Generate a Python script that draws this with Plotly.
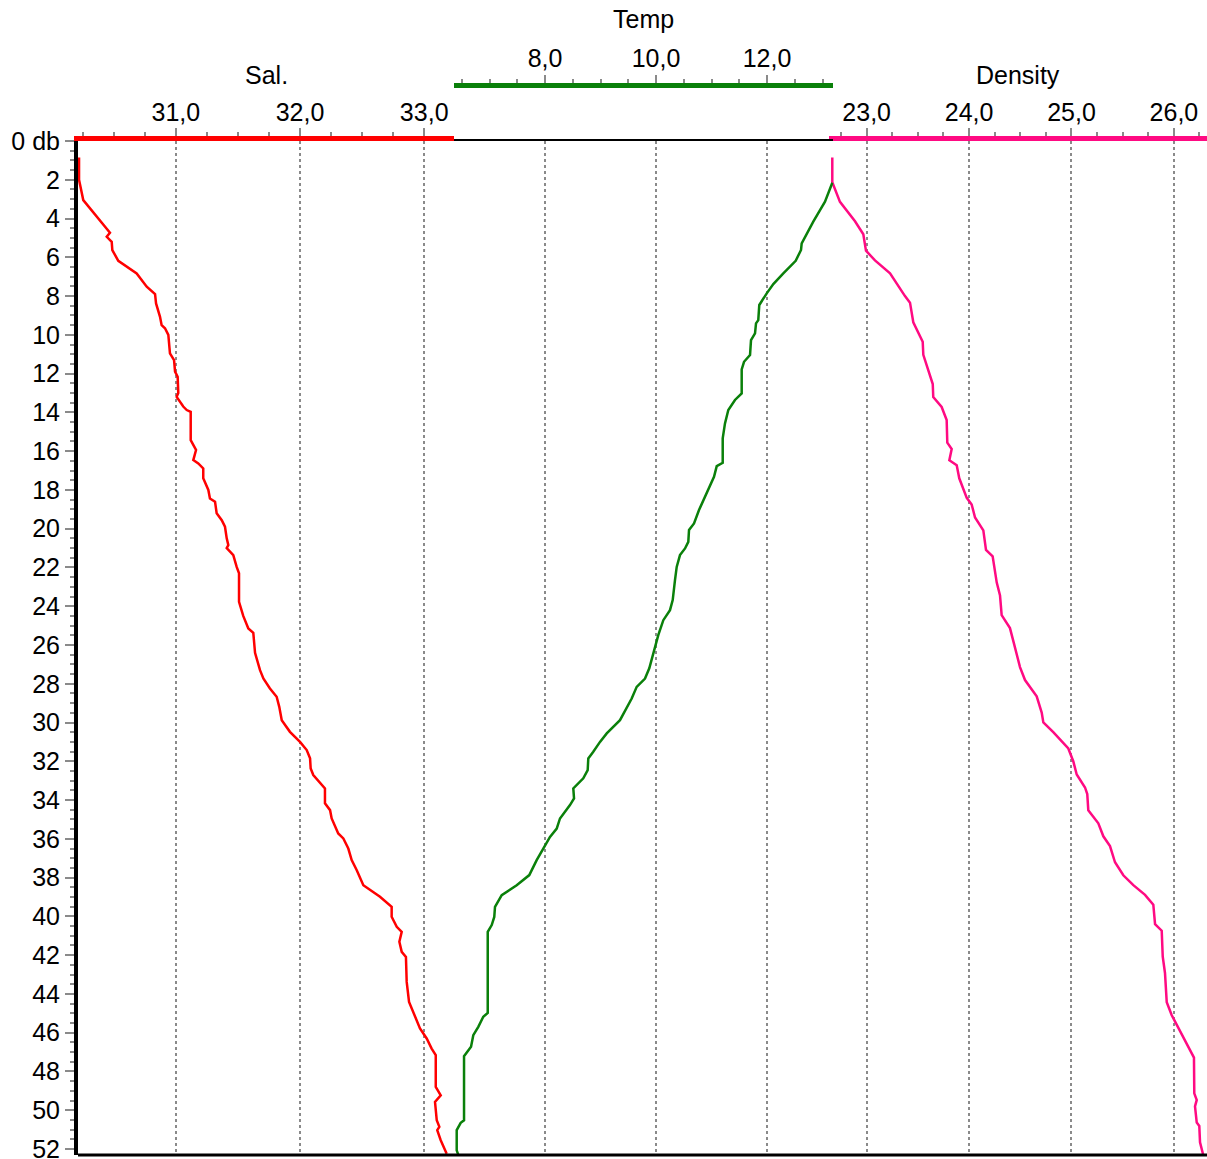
import plotly.graph_objects as go

# ---------------- data ----------------
depth_ticks = list(range(0, 53, 2))
depth_labels = ["0 db"] + [str(v) for v in depth_ticks[1:]]

sal_depth = [0.85, 2.0, 3.05, 4.73, 4.94, 5.2, 5.63, 6.18, 6.83, 7.52, 7.9, 8.38, 9.07, 9.5, 9.66,
             10.0, 10.6, 10.96, 11.3, 11.9, 12.16, 13.0, 13.2, 13.7, 13.88, 13.97, 15.43, 15.94,
             16.46, 16.63, 16.89, 17.4, 18.0, 18.44, 18.61, 19.2, 19.56, 19.9, 20.5, 20.85, 21.0,
             21.36, 21.97, 22.3, 23.77, 24.5, 25.15, 25.37, 26.4, 27.3, 27.73, 28.24, 28.67, 29.19,
             29.88, 30.48, 31.0, 31.42, 31.85, 32.37, 32.71, 33.14, 33.4, 34.17, 34.52, 34.95,
             35.38, 35.72, 35.98, 36.5, 37.1, 37.62, 38.39, 38.99, 39.51, 40.02, 40.54, 40.8,
             41.31, 41.83, 42.09, 43.38, 44.41, 45.18, 45.78, 46.3, 46.82, 47.16, 48.8, 49.23,
             49.57, 50.52, 50.86, 51.03, 51.55, 52.24]
sal = [30.221, 30.221, 30.255, 30.470, 30.444, 30.484, 30.489, 30.537, 30.685, 30.766, 30.833,
       30.841, 30.873, 30.886, 30.913, 30.940, 30.948, 30.953, 30.986, 30.994, 31.015, 31.020,
       31.007, 31.060, 31.088, 31.120, 31.120, 31.163, 31.141, 31.181, 31.221, 31.221, 31.262,
       31.275, 31.316, 31.329, 31.370, 31.396, 31.410, 31.423, 31.410, 31.463, 31.490, 31.509,
       31.509, 31.543, 31.584, 31.624, 31.638, 31.678, 31.705, 31.758, 31.812, 31.833, 31.853,
       31.919, 32.000, 32.054, 32.081, 32.086, 32.107, 32.161, 32.201, 32.201, 32.242, 32.255,
       32.282, 32.308, 32.349, 32.389, 32.416, 32.457, 32.510, 32.644, 32.738, 32.738, 32.779,
       32.819, 32.800, 32.819, 32.853, 32.859, 32.878, 32.926, 32.966, 33.020, 33.060, 33.093,
       33.093, 33.133, 33.087, 33.101, 33.122, 33.105, 33.133, 33.181]

temp_depth = [2.15, 3.13, 4.16, 4.94, 5.28, 5.62, 6.18, 6.83, 7.38, 7.86, 8.2, 8.46, 9.24,
              9.41, 9.92, 10.27, 11.04, 11.39, 11.78, 13.02, 13.36, 13.88, 14.57, 15.34, 16.6,
              16.77, 17.32, 18.0, 18.52, 19.04, 19.73, 20.07, 20.68, 21.02, 21.36, 21.97, 22.65,
              23.68, 24.2, 24.72, 25.49, 26.43, 27.2, 27.73, 28.16, 28.76, 29.36, 29.88, 30.56,
              31.0, 31.51, 31.85, 32.46, 32.88, 33.4, 33.92, 34.26, 34.61, 34.95, 35.47, 35.9,
              36.5, 37.1, 37.87, 38.39, 38.91, 39.51, 40.03, 40.45, 40.8, 44.98, 45.18, 45.7,
              46.13, 46.73, 47.21, 50.52, 50.65, 51.03, 52.07, 52.3]
temp = [13.177, 13.045, 12.834, 12.685, 12.625, 12.613, 12.517, 12.294, 12.114, 11.995,
        11.923, 11.861, 11.843, 11.802, 11.784, 11.712, 11.694, 11.586, 11.544, 11.544, 11.423,
        11.303, 11.243, 11.202, 11.202, 11.094, 11.045, 10.942, 10.852, 10.775, 10.685, 10.595,
        10.582, 10.523, 10.432, 10.373, 10.342, 10.301, 10.252, 10.132, 10.041, 9.951, 9.879,
        9.802, 9.652, 9.562, 9.441, 9.351, 9.112, 8.991, 8.870, 8.780, 8.769, 8.690, 8.510,
        8.523, 8.450, 8.360, 8.270, 8.211, 8.090, 7.969, 7.850, 7.717, 7.490, 7.220, 7.099,
        7.086, 7.040, 6.968, 6.968, 6.888, 6.798, 6.708, 6.667, 6.541, 6.541, 6.481, 6.409,
        6.409, 6.438]

dens_depth = [0.85, 2.13, 3.14, 4.14, 4.81, 5.66, 6.16, 6.83, 8.0, 8.34, 9.35, 9.85, 10.36, 11.03,
              11.87, 12.54, 13.21, 13.72, 14.39, 15.56, 15.89, 16.47, 16.73, 17.4, 18.41, 18.75,
              19.42, 20.09, 21.1, 21.43, 22.78, 23.45, 24.46, 25.13, 25.8, 27.14, 27.81, 28.65,
              29.49, 29.99, 30.5, 31.34, 32.01, 32.68, 33.35, 33.69, 34.53, 35.2, 35.87, 36.37,
              37.21, 37.88, 38.39, 38.89, 39.4, 40.4, 40.74, 42.08, 42.92, 44.43, 45.1, 45.94,
              46.61, 47.29, 49.13, 49.47, 49.8, 50.64, 50.81, 51.65, 52.32]
dens = [22.664, 22.664, 22.739, 22.886, 22.967, 22.993, 23.081, 23.228, 23.374, 23.423, 23.455,
        23.504, 23.547, 23.553, 23.602, 23.645, 23.650, 23.732, 23.781, 23.787, 23.830, 23.807,
        23.879, 23.904, 23.977, 24.025, 24.058, 24.139, 24.165, 24.230, 24.270, 24.302, 24.318,
        24.399, 24.432, 24.497, 24.546, 24.660, 24.709, 24.725, 24.822, 24.969, 25.018, 25.051,
        25.132, 25.154, 25.164, 25.262, 25.311, 25.376, 25.425, 25.506, 25.604, 25.718, 25.799,
        25.816, 25.881, 25.891, 25.913, 25.930, 25.979, 26.060, 26.125, 26.196, 26.199, 26.223,
        26.206, 26.223, 26.248, 26.255, 26.287]

# ---------------- styling ----------------
FONT = dict(family="Liberation Sans, Arial, sans-serif", size=25, color="black")
GRAY = "#8a8a8a"
RED = "#ff0000"
GREEN = "#0a800a"
PINK = "#ff0a82"

fig = go.Figure()
fig.add_trace(go.Scatter(x=sal, y=sal_depth, xaxis="x", yaxis="y", mode="lines",
                         line=dict(color=RED, width=2.5), hoverinfo="skip"))
fig.add_trace(go.Scatter(x=temp, y=temp_depth, xaxis="x4", yaxis="y", mode="lines",
                         line=dict(color=GREEN, width=2.5), hoverinfo="skip"))
fig.add_trace(go.Scatter(x=dens, y=dens_depth, xaxis="x3", yaxis="y", mode="lines",
                         line=dict(color=PINK, width=2.5), hoverinfo="skip"))
fig.add_trace(go.Scatter(x=[], y=[], xaxis="x2", yaxis="y2", mode="lines", hoverinfo="skip"))

Y_TOP = 0.94326
Y2_TOP = 0.99302
D_SAL = [0, 1 / 3]
D_TEMP = [1 / 3, 0.669]
D_DENS = [0.6655, 1]

def xax(domain, rng, anchor, tick0, dtick, mtick0, mdtick, color, grid=True, labels=True,
        lw=5, ticks="outside", standoff=-3):
    return dict(
        domain=domain, range=rng, anchor=anchor, side="top", automargin=False,
        tickmode="linear", tick0=tick0, dtick=dtick, tickformat=".1f",
        ticks=ticks, ticklen=8, tickwidth=2, tickcolor=GRAY,
        showticklabels=labels, tickfont=FONT, ticklabelstandoff=standoff,
        showline=True, linecolor=color, linewidth=lw,
        showgrid=grid, gridcolor=GRAY, gridwidth=2, griddash="dot",
        zeroline=False, fixedrange=True,
        minor=dict(tick0=mtick0, dtick=mdtick, ticks=ticks if ticks else "", ticklen=4,
                   tickwidth=2, tickcolor=GRAY, showgrid=False),
    )

fig.update_layout(
    width=1207, height=1159,
    margin=dict(l=78, r=0, t=80, b=4, autoexpand=False),
    paper_bgcolor="white", plot_bgcolor="rgba(0,0,0,0)",
    showlegend=False,
    separators=", ",
    font=FONT,
    xaxis=xax(D_SAL, [30.2126, 33.2426], "y", 31, 1, 30, 0.25, RED),
    xaxis2=xax(D_TEMP, [6.3663, 13.1946], "y2", 8, 2, 6, 0.5, GREEN, grid=False, standoff=-2),
    xaxis3=xax(D_DENS, [22.6353, 26.3232], "y", 23, 1, 22.5, 0.25, PINK),
    xaxis4=xax(D_TEMP, [6.3663, 13.1946], "y", 8, 2, 6, 0.5, "black", grid=True,
               labels=False, lw=2, ticks="", standoff=0),
    yaxis=dict(
        domain=[0, Y_TOP], range=[52.31, 0], automargin=False,
        tickmode="array", tickvals=depth_ticks, ticktext=depth_labels,
        ticks="outside", ticklen=9, tickwidth=2, tickcolor=GRAY, tickfont=FONT,
        ticklabeloverflow="allow",
        showline=True, linecolor="black", linewidth=4,
        showgrid=False, zeroline=False, fixedrange=True,
        minor=dict(tick0=0, dtick=0.5, ticks="outside", ticklen=4, tickwidth=2,
                   tickcolor=GRAY, showgrid=False),
    ),
    yaxis2=dict(domain=[0, Y2_TOP], range=[0, 1], showticklabels=False, showline=False,
                showgrid=False, zeroline=False, ticks="", fixedrange=True, automargin=False),
    shapes=[
        dict(type="line", xref="paper", x0=0, x1=1, yref="y domain", y0=0, y1=0,
             line=dict(color="black", width=3)),
    ],
    annotations=[
        dict(text="Sal.", xref="x domain", x=0.5, yref="y domain", y=1.065,
             showarrow=False, xanchor="center", yanchor="middle", font=FONT),
        dict(text="Temp", xref="x2 domain", x=0.5, yref="y domain", y=1.1203,
             showarrow=False, xanchor="center", yanchor="middle", font=FONT),
        dict(text="Density", xref="x3 domain", x=0.5, yref="y domain", y=1.065,
             showarrow=False, xanchor="center", yanchor="middle", font=FONT),
    ],
)

fig.write_html(
    "out.html",
    config={"displayModeBar": False},
    post_script="document.body.style.margin='0';document.body.style.padding='0';"
                "document.body.style.overflow='hidden';",
)
